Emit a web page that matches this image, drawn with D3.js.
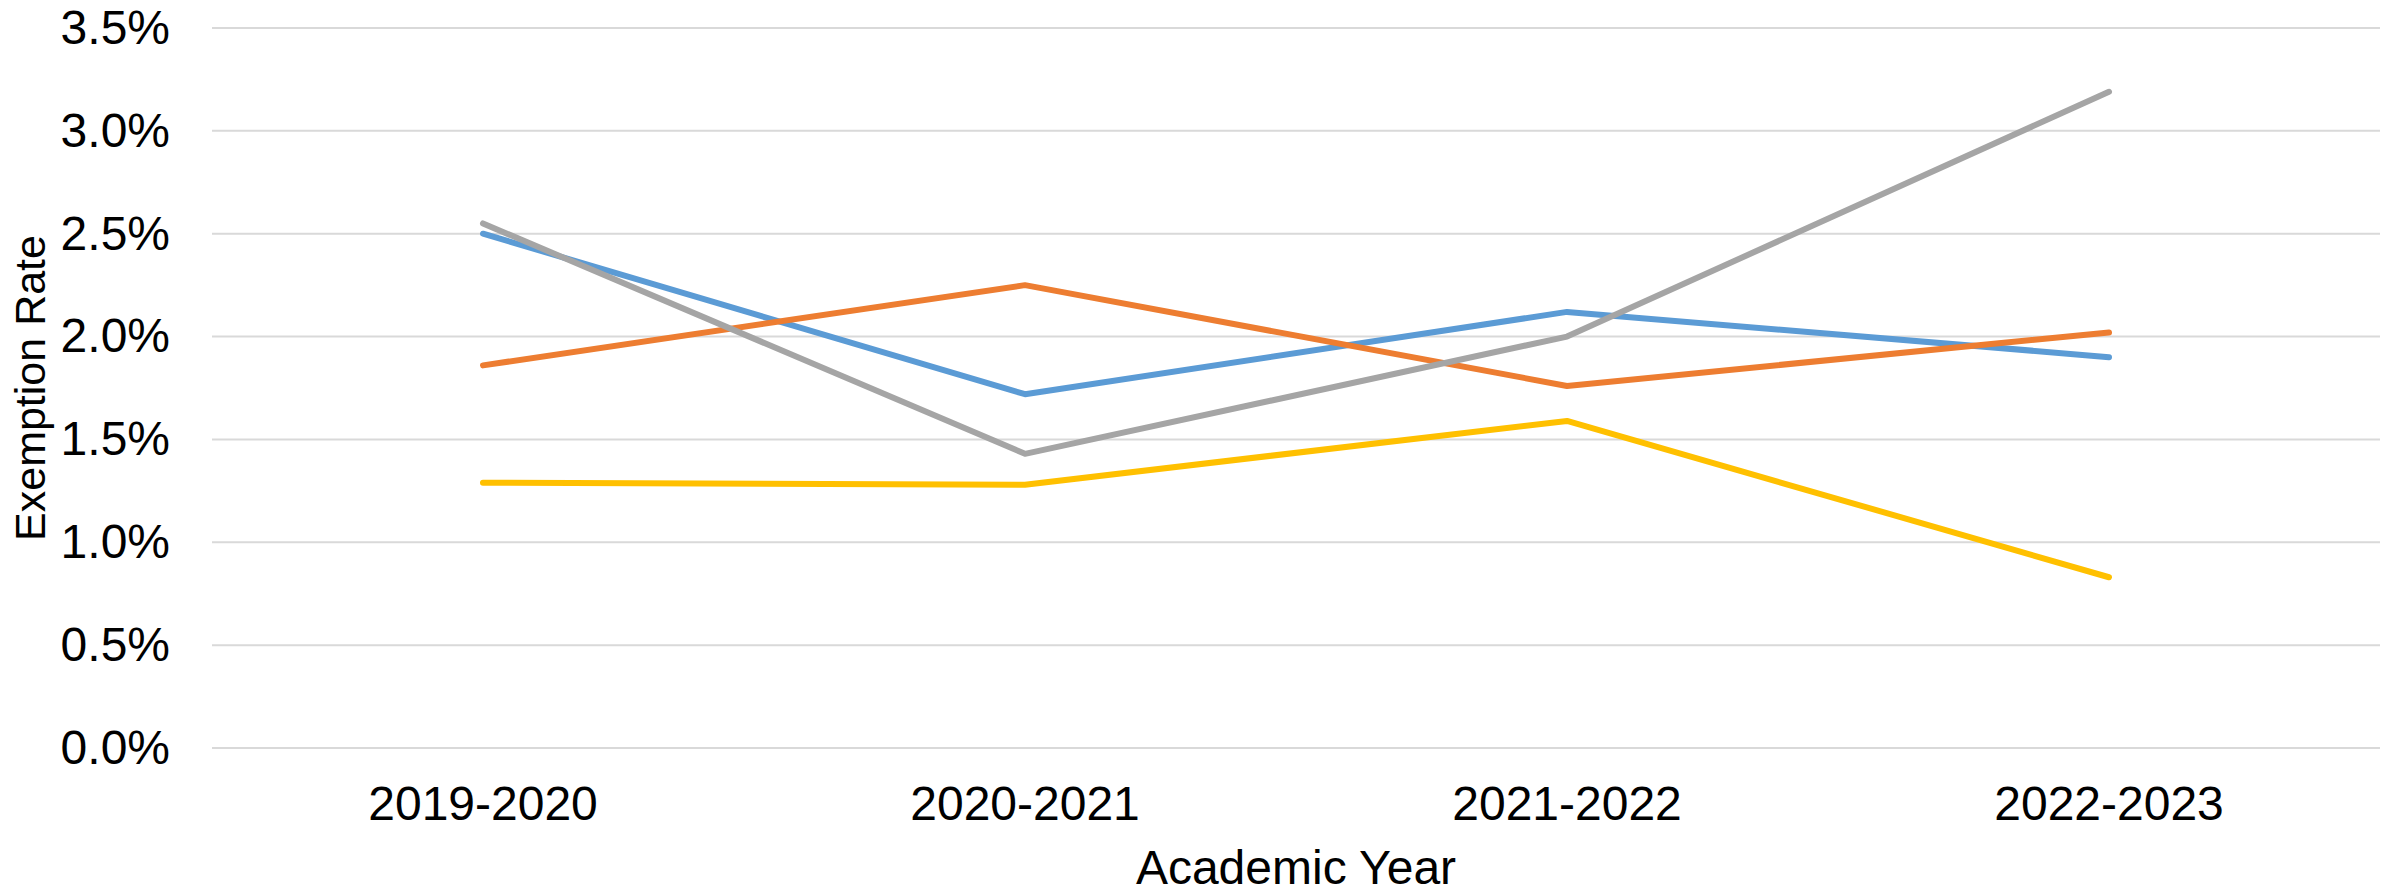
<!DOCTYPE html>
<html>
<head>
<meta charset="utf-8">
<script src="https://cdn.jsdelivr.net/npm/d3@7"></script>
<style>
  html, body { margin: 0; padding: 0; background: #fff; }
  svg { display: block; }
  text { font-family: "Liberation Sans", Arial, sans-serif; fill: #000; }
</style>
</head>
<body>
<svg id="chart" width="2381" height="894"></svg>
<script>
const categories = ["2019-2020", "2020-2021", "2021-2022", "2022-2023"];
const seriesBlue   = [2.50, 1.72, 2.12, 1.90];
const seriesOrange = [1.86, 2.25, 1.76, 2.02];
const seriesGray   = [2.55, 1.43, 2.00, 3.19];
const seriesYellow = [1.29, 1.28, 1.59, 0.83];
const yTicks = [0, 0.5, 1.0, 1.5, 2.0, 2.5, 3.0, 3.5];
const xTitle = "Academic Year";
const yTitle = "Exemption Rate";

const series = [
  { name: "Series 1", values: seriesBlue,   color: "#5b9bd5" },
  { name: "Series 2", values: seriesOrange, color: "#ed7d31" },
  { name: "Series 3", values: seriesGray,   color: "#a5a5a5" },
  { name: "Series 4", values: seriesYellow, color: "#ffc000" }
];

const svg = d3.select("#chart");
const plot = { left: 212, right: 2380, top: 28, bottom: 748 };
const fs = 48;

const x = d3.scaleBand().domain(categories).range([plot.left, plot.right]).padding(0);
const y = d3.scaleLinear().domain([0, 3.5]).range([plot.bottom, plot.top]);

// gridlines
svg.append("g").selectAll("line").data(yTicks).join("line")
  .attr("x1", plot.left).attr("x2", plot.right)
  .attr("y1", d => y(d)).attr("y2", d => y(d))
  .attr("stroke", "#d9d9d9").attr("stroke-width", 2);

// y axis
const yAxis = svg.append("g").attr("transform", `translate(${plot.left},0)`)
  .call(d3.axisLeft(y).tickValues(yTicks).tickSize(0).tickPadding(42)
    .tickFormat(d => d.toFixed(1) + "%"));
yAxis.select(".domain").remove();
yAxis.selectAll("text").style("font-size", fs + "px")
  .style("font-family", '"Liberation Sans", Arial, sans-serif').attr("fill", "#000");

// x axis
const xAxis = svg.append("g").attr("transform", `translate(0,${plot.bottom})`)
  .call(d3.axisBottom(x).tickSize(0).tickPadding(38));
xAxis.select(".domain").remove();
xAxis.selectAll("text").style("font-size", fs + "px")
  .style("font-family", '"Liberation Sans", Arial, sans-serif').attr("fill", "#000");

// lines
const line = d3.line()
  .x((d, i) => x(categories[i]) + x.bandwidth() / 2)
  .y(d => y(d));

svg.append("g").selectAll("path").data(series).join("path")
  .attr("d", d => line(d.values))
  .attr("fill", "none")
  .attr("stroke", d => d.color)
  .attr("stroke-width", 6)
  .attr("stroke-linejoin", "round")
  .attr("stroke-linecap", "round");

// axis titles
svg.append("text")
  .attr("x", (plot.left + plot.right) / 2)
  .attr("y", 884)
  .attr("text-anchor", "middle")
  .style("font-size", fs + "px")
  .text(xTitle);

svg.append("text")
  .attr("transform", `translate(45,${(plot.top + plot.bottom) / 2}) rotate(-90)`)
  .attr("text-anchor", "middle")
  .style("font-size", "43px")
  .text(yTitle);
</script>
</body>
</html>
